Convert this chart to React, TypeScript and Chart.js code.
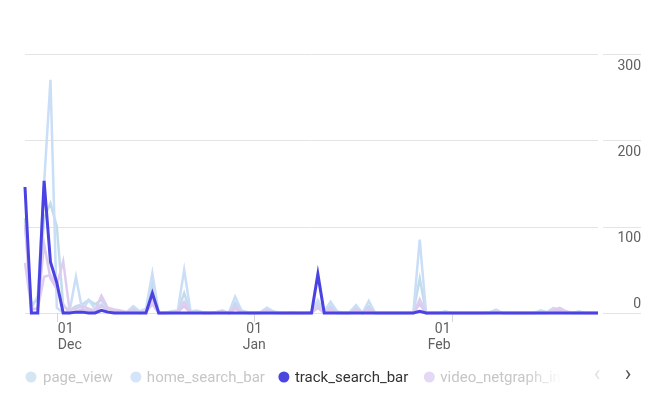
import React, { useEffect, useRef } from "react";
import { Chart, registerables } from "chart.js";

Chart.register(...registerables);

// ---- data ----
const startDate = { year: 2023, month: 10, day: 26 }; // Nov 26
const dayCount = 91;
const categories: string[] = (() => {
  const out: string[] = [];
  const d = new Date(startDate.year, startDate.month, startDate.day);
  for (let i = 0; i < dayCount; i++) {
    const mm = String(d.getMonth() + 1).padStart(2, "0");
    const dd = String(d.getDate()).padStart(2, "0");
    out.push(`${mm}-${dd}`);
    d.setDate(d.getDate() + 1);
  }
  return out;
})();

const xTickCategories = ["12-01", "01-01", "02-01"];
const xTickDay = ["01", "01", "01"];
const xTickMonth = ["Dec", "Jan", "Feb"];
const yTickValues = [0, 100, 200, 300];

const seriesNames = ["page_view", "home_search_bar", "track_search_bar", "video_netgraph_ins", "event_other"];
const legendNames = ["page_view", "home_search_bar", "track_search_bar", "video_netgraph_ins"];

const pageView = [
  110, 10, 15, 110, 127, 100, 8, 3, 8, 10,
  15, 10, 15, 5, 3, 1, 1, 5, 1, 3,
  35, 0, 0, 1, 2, 23, 1, 2, 0, 0,
  1, 2, 0, 12, 2, 0, 0, 1, 4, 1,
  0, 0, 0, 0, 0, 1, 12, 1, 8, 1,
  0, 0, 6, 0, 8, 0, 0, 0, 0, 0,
  0, 1, 40, 0, 0, 0, 1, 0, 0, 0,
  0, 0, 0, 1, 2, 0, 0, 0, 0, 0,
  0, 2, 0, 3, 1, 0, 0, 1, 0, 0,
  0,
];

const homeSearchBar = [
  105, 5, 20, 150, 270, 6, 0, 2, 42, 3,
  15, 5, 10, 4, 3, 2, 1, 8, 2, 5,
  46, 0, 0, 2, 3, 50, 2, 3, 1, 0,
  1, 3, 0, 19, 3, 1, 0, 1, 6, 2,
  0, 0, 1, 0, 0, 1, 15, 2, 13, 2,
  0, 1, 9, 0, 14, 0, 0, 0, 0, 0,
  0, 1, 85, 0, 0, 0, 2, 0, 0, 0,
  0, 0, 0, 1, 4, 0, 0, 0, 0, 0,
  0, 3, 1, 6, 3, 1, 0, 2, 0, 0,
  0,
];

const trackSearchBar = [
  146, 0, 0, 153, 59, 35, 0, 0, 1, 1,
  0, 0, 3, 1, 0, 0, 0, 0, 0, 0,
  23, 0, 0, 0, 0, 0, 0, 0, 0, 0,
  0, 0, 0, 0, 0, 0, 0, 0, 0, 0,
  0, 0, 0, 0, 0, 0, 45, 0, 0, 0,
  0, 0, 0, 0, 0, 0, 0, 0, 0, 0,
  0, 0, 2, 0, 0, 0, 0, 0, 0, 0,
  0, 0, 0, 0, 0, 0, 0, 0, 0, 0,
  0, 0, 0, 0, 0, 0, 0, 0, 0, 0,
  0,
];

const videoNetgraph = [
  58, 5, 5, 42, 44, 32, 60, 3, 5, 8,
  5, 3, 20, 6, 4, 3, 1, 4, 0, 3,
  15, 0, 0, 1, 2, 13, 1, 1, 0, 0,
  1, 2, 0, 8, 1, 0, 0, 0, 3, 1,
  0, 0, 0, 0, 0, 0, 8, 1, 5, 0,
  0, 0, 4, 0, 5, 0, 0, 0, 0, 0,
  0, 0, 16, 0, 0, 0, 0, 0, 0, 0,
  0, 0, 0, 0, 2, 0, 0, 0, 0, 0,
  0, 0, 0, 4, 6, 2, 0, 0, 0, 0,
  0,
];

const eventOther = [
  102, 4, 5, 80, 40, 28, 10, 0, 2, 4,
  3, 2, 8, 3, 2, 1, 0, 2, 0, 1,
  10, 0, 0, 0, 1, 8, 0, 1, 0, 0,
  0, 1, 0, 5, 1, 0, 0, 0, 2, 0,
  0, 0, 0, 0, 0, 0, 6, 0, 3, 0,
  0, 0, 2, 0, 3, 0, 0, 0, 0, 0,
  0, 0, 10, 0, 0, 0, 0, 0, 0, 0,
  0, 0, 0, 0, 1, 0, 0, 0, 0, 0,
  0, 0, 0, 2, 4, 1, 0, 0, 0, 0,
  0,
];

const seriesValues = [pageView, homeSearchBar, trackSearchBar, videoNetgraph, eventOther];
const lineColors = ["#c2dceb", "#cadef7", "#4a42e3", "#decdf0", "#dacbed"];
const legendDotColors = ["#d3e6f1", "#d4e4f9", "#4b46e0", "#e3d9f4"];
const legendActive = [false, false, true, false];

const FONT = "Roboto, 'Noto Sans', sans-serif";

const decorPlugin = {
  id: "decor",
  beforeDatasetsDraw(chart: any) {
    const { ctx, chartArea: a, scales } = chart;
    const x = scales.x;
    const y = scales.y;
    ctx.save();
    ctx.strokeStyle = "#e4e4e4";
    ctx.lineWidth = 1;
    for (const v of yTickValues) {
      const py = Math.round(y.getPixelForValue(v)) + 0.5;
      ctx.beginPath();
      ctx.moveTo(a.left, py);
      ctx.lineTo(a.right, py);
      ctx.moveTo(a.right + 5, py);
      ctx.lineTo(a.right + 43, py);
      ctx.stroke();
    }
    ctx.strokeStyle = "#d6d6d6";
    for (const c of xTickCategories) {
      const px = Math.round(x.getPixelForValue(categories.indexOf(c))) + 0.5;
      ctx.beginPath();
      ctx.moveTo(px, a.bottom);
      ctx.lineTo(px, a.bottom + 9);
      ctx.stroke();
    }
    ctx.restore();
  },
  afterDraw(chart: any) {
    const { ctx, chartArea: a, scales } = chart;
    const x = scales.x;
    const y = scales.y;
    ctx.save();
    // y labels
    ctx.font = `14px ${FONT}`;
    ctx.fillStyle = "#616161";
    ctx.textAlign = "right";
    ctx.textBaseline = "middle";
    for (const v of yTickValues) {
      const py = y.getPixelForValue(v);
      const off = v === 0 ? -9 : 12;
      ctx.fillText(String(v), a.right + 43, py + off);
    }
    // x labels
    const aligns = ["left", "center", "right"];
    xTickCategories.forEach((c, k) => {
      const px = x.getPixelForValue(categories.indexOf(c));
      const al = aligns[k];
      ctx.textAlign = al;
      const tx = al === "left" ? px + 1 : al === "right" ? px - 1 : px;
      ctx.fillText(xTickDay[k], tx, a.bottom + 16);
      ctx.fillText(xTickMonth[k], tx, a.bottom + 32);
    });
    // legend
    const ly = 378;
    let cx = 31;
    const textOffsets = [12, 11, 11, 11];
    const gaps = [23, 19, 21, 21];
    ctx.font = `15px ${FONT}`;
    ctx.textAlign = "left";
    legendNames.forEach((name, k) => {
      ctx.fillStyle = legendDotColors[k];
      ctx.beginPath();
      ctx.arc(cx, ly - 1, 5.5, 0, Math.PI * 2);
      ctx.fill();
      ctx.fillStyle = legendActive[k] ? "#333333" : "#c6c6c6";
      ctx.fillText(name, cx + textOffsets[k], ly);
      cx += textOffsets[k] + ctx.measureText(name).width + gaps[k];
    });
    const g = ctx.createLinearGradient(525, 0, 562, 0);
    g.addColorStop(0, "rgba(255,255,255,0)");
    g.addColorStop(1, "rgba(255,255,255,1)");
    ctx.fillStyle = g;
    ctx.fillRect(525, ly - 12, 37, 24);
    ctx.fillStyle = "#ffffff";
    ctx.fillRect(562, ly - 12, 103, 24);
    ctx.font = `22px ${FONT}`;
    ctx.textAlign = "center";
    ctx.fillStyle = "#e2e2e2";
    ctx.fillText("\u2039", 597, ly - 3);
    ctx.fillStyle = "#555555";
    ctx.fillText("\u203A", 628, ly - 3);
    ctx.restore();
  },
};

export default function App() {
  const ref = useRef<HTMLCanvasElement | null>(null);
  useEffect(() => {
    document.body.style.margin = "0";
    const canvas = ref.current!;
    // first dataset is painted on top
    const order = [2, 3, 4, 1, 0];
    const chart = new Chart(canvas, {
      type: "line",
      data: {
        labels: categories,
        datasets: order.map((k) => ({
          label: seriesNames[k],
          data: seriesValues[k],
          borderColor: lineColors[k],
          backgroundColor: lineColors[k],
          borderWidth: k === 2 ? 3 : 2.5,
          pointRadius: 0,
          pointHoverRadius: 0,
          tension: 0,
          fill: false,
          clip: 4,
        })),
      },
      options: {
        animation: false,
        responsive: false,
        devicePixelRatio: 1,
        layout: { padding: { left: 25, right: 67, top: 54, bottom: 84 } },
        plugins: { legend: { display: false }, tooltip: { enabled: false } },
        scales: {
          x: { type: "category", display: false, offset: false },
          y: { display: false, min: 0, max: 300 },
        },
      },
      plugins: [decorPlugin],
    });
    return () => chart.destroy();
  }, []);
  return (
    <div style={{ width: 665, height: 397, background: "#fff" }}>
      <canvas ref={ref} width={665} height={397} style={{ display: "block" }} />
    </div>
  );
}
